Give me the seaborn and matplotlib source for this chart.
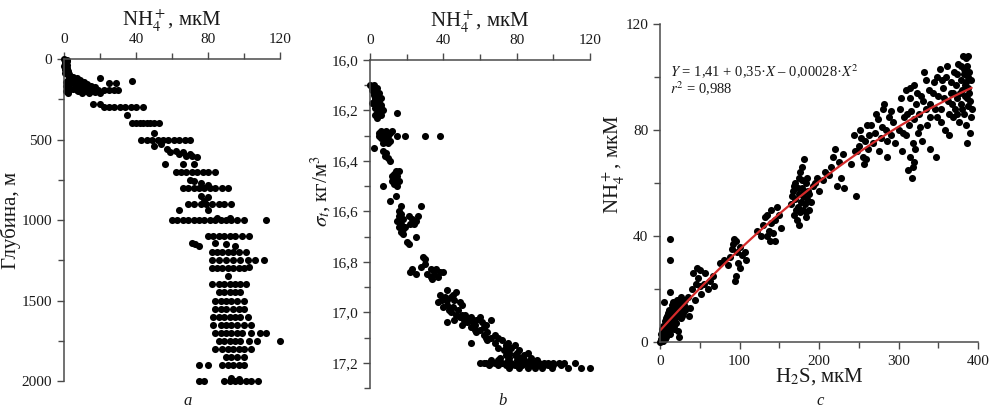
import numpy as np
import pandas as pd
import seaborn as sns
import matplotlib.pyplot as plt
from matplotlib.ticker import MultipleLocator, FuncFormatter

# Panel a: depth (m) vs NH4+ (uM)
depth_a = [0, 10, 20, 30, 40, 50, 60, 70, 80, 90, 100, 5, 15, 25, 35, 45, 55, 65, 75, 85, 95,
           105, 110, 115, 120, 125, 130, 135, 140, 145, 150, 155, 160, 165, 170, 175, 180, 185, 190, 195, 200,
           130, 140, 150, 160, 170, 180, 190, 200, 210, 150, 160, 170, 180, 190, 200,
           120, 150, 150, 135, 190, 190, 190, 190, 200, 205, 210, 210, 210,
           280, 280,
           300, 300, 300, 300, 300, 300, 300, 300,
           345,
           400, 400, 400, 400, 400, 400, 400, 400,
           460,
           500, 500, 500, 500, 500, 500, 500, 500, 500, 500,
           540, 530,
           560, 570, 580, 590, 600, 600, 610, 575, 590,
           650, 650, 650,
           700, 700, 700, 700, 700, 700, 700, 700,
           750, 760, 770, 780,
           800, 800, 800, 800, 800, 800, 800, 800, 800,
           850, 860,
           900, 900, 900, 900, 900, 900, 900, 900, 880,
           940, 940,
           1000, 1000, 1000, 1000, 1000, 1000, 1000, 1000, 1000, 1000, 1000, 1000, 1000, 1000, 1000, 990, 990,
           1100, 1100, 1100, 1100, 1100, 1100, 1100, 1100,
           1140, 1150, 1160, 1140, 1150, 1160,
           1200, 1200, 1200, 1200, 1200, 1200, 1200,
           1250, 1250, 1250, 1250, 1250, 1250, 1250, 1250,
           1300, 1300, 1300, 1300, 1300, 1300, 1300, 1290,
           1350,
           1400, 1400, 1400, 1400, 1400, 1400, 1400,
           1450, 1450, 1450, 1450, 1450,
           1500, 1500, 1500, 1500, 1500, 1500,
           1550, 1550, 1550, 1550, 1550, 1550,
           1600, 1600, 1600, 1600, 1600, 1600, 1600,
           1650, 1650, 1650, 1650, 1650, 1650, 1650,
           1700, 1700, 1700, 1700, 1700, 1700, 1700, 1700, 1700,
           1750, 1750, 1750, 1750, 1750, 1750, 1750, 1750,
           1800, 1800, 1800, 1800, 1800, 1800, 1800,
           1850, 1850, 1850, 1850,
           1900, 1900, 1900, 1900, 1900, 1900, 1900,
           2000, 2000, 2000, 2000, 2000, 2000, 2000, 2000, 2000, 1980, 1990]
nh4_a = [0, 0.5, 0.3, 0.8, 0.5, 1, 0.6, 1.2, 1, 1.5, 2, 1.5, 1.8, 0.4, 1.9, 0.2, 1.6, 0.3, 2.2, 0.5, 2.5,
         3, 5, 4, 7, 6, 9, 8, 11, 3, 10, 13, 12, 15, 8, 17, 14, 5, 19, 11, 16,
         2, 1, 1.5, 2, 1, 2.5, 3, 1, 2, 5, 7, 10, 9, 7, 8,
         20, 25, 29, 38, 22, 25, 28, 30, 12, 17, 10, 14, 20,
         16, 20,
         22, 25, 28, 31, 34, 37, 40, 44,
         35,
         38, 40, 42, 44, 46, 48, 50, 53,
         50,
         43, 46, 49, 52, 55, 58, 61, 64, 67, 70,
         50, 54,
         57, 62, 59, 64, 68, 71, 74, 66, 70,
         56, 66, 72,
         62, 65, 68, 71, 74, 77, 80, 84,
         70, 72, 76, 80,
         66, 69, 72, 75, 78, 81, 84, 88, 91,
         76, 80,
         69, 72, 76, 79, 82, 86, 89, 93, 78,
         64, 80,
         60, 63, 66, 69, 72, 75, 78, 81, 84, 87, 90, 93, 96, 100, 112, 85, 92,
         80, 83, 86, 89, 92, 95, 99, 103,
         71, 73, 75, 84, 90, 95,
         82, 85, 88, 91, 94, 97, 101,
         82, 86, 90, 94, 98, 102, 106, 111,
         82, 85, 88, 91, 94, 97, 100, 103,
         91,
         82, 86, 89, 92, 95, 98, 101,
         86, 89, 92, 95, 98,
         84, 87, 90, 93, 96, 100,
         84, 87, 90, 94, 97, 100,
         83, 86, 89, 92, 95, 98, 102,
         83, 87, 90, 93, 96, 100, 104,
         84, 87, 90, 93, 96, 99, 104, 109, 112,
         86, 89, 92, 95, 98, 103, 107, 120,
         84, 88, 91, 94, 97, 100, 104,
         90, 93, 96, 100,
         75, 80, 88, 91, 94, 97, 100,
         75, 78, 89, 92, 95, 98, 101, 104, 108, 93, 97]

# Panel b: sigma-t (kg/m3) vs NH4+ (uM)
sigma_b = [16.10, 16.10, 16.11, 16.12, 16.12, 16.13, 16.14, 16.14, 16.15, 16.16, 16.16, 16.17, 16.18,
           16.18, 16.19, 16.20, 16.20, 16.21, 16.22, 16.22, 16.23, 16.11, 16.13, 16.15, 16.17, 16.19,
           16.21,
           16.28, 16.28, 16.28, 16.29, 16.29, 16.29, 16.30, 16.30, 16.31, 16.31, 16.32, 16.32, 16.33, 16.33, 16.30,
           16.30, 16.30, 16.30, 16.30, 16.35,
           16.36, 16.37, 16.38, 16.39, 16.40,
           16.44, 16.44, 16.45, 16.46, 16.46, 16.47, 16.48, 16.48, 16.49, 16.50, 16.50,
           16.54, 16.56, 16.58, 16.58,
           16.60, 16.61, 16.62, 16.63, 16.64, 16.65, 16.66, 16.66, 16.67, 16.68, 16.62, 16.62, 16.63, 16.64, 16.65, 16.65,
           16.69, 16.70, 16.72, 16.73,
           16.78, 16.79, 16.81, 16.82, 16.83, 16.83, 16.84, 16.84, 16.85, 16.85, 16.85, 16.86, 16.86, 16.87, 16.84, 16.83,
           16.91, 16.92, 16.93, 16.94, 16.94, 16.95, 16.95, 16.96, 16.97, 16.97, 16.98, 16.99, 16.93, 16.96,
           17.00, 17.01, 17.01, 17.02, 17.02, 17.03, 17.03, 17.03, 17.04, 17.04, 17.05, 17.05, 17.05, 17.03, 17.02, 17.04,
           17.06, 17.07, 17.08, 17.08, 17.09, 17.10, 17.10, 17.11, 17.11, 17.12, 17.12, 17.13, 17.13, 17.14, 17.14,
           17.15, 17.15, 17.16, 17.16, 17.17, 17.17, 17.18, 17.18,
           17.19, 17.19, 17.19, 17.20, 17.20, 17.20, 17.20, 17.20, 17.20, 17.20, 17.20, 17.20, 17.20, 17.20,
           17.21, 17.21, 17.21, 17.21, 17.21, 17.21, 17.21, 17.21,
           17.22, 17.22, 17.22, 17.22, 17.22, 17.22, 17.22, 17.22, 17.22, 17.19, 17.19,
           17.20, 17.20, 17.20, 17.20, 17.20, 17.20, 17.20, 17.20, 17.20, 17.20,
           17.21, 17.21, 17.21, 17.21, 17.21, 17.21, 17.21, 17.19, 17.19, 17.18, 17.18, 17.17, 17.16,
           17.14, 17.12, 17.10, 17.09, 17.07, 17.06, 17.04, 17.03, 17.02, 17.01, 16.99, 16.98, 16.95]
nh4_b = [0, 2, 4, 1, 3, 5, 2, 4, 6, 3, 5, 1, 4,
         6, 3, 5, 7, 4, 3, 6, 4, 1, 2, 3, 5, 6,
         15,
         6, 9, 12, 5, 8, 11, 7, 10, 6, 9, 8, 11, 7, 10, 5,
         15, 19, 30, 38, 2,
         7, 9, 8, 10, 11,
         14, 16, 13, 12, 15, 14, 16, 12, 13, 15, 7,
         14, 11, 17, 28,
         16, 17, 16, 18, 15, 17, 16, 19, 18, 17, 21, 26, 23, 25, 22, 24,
         18, 25, 20, 21,
         29, 30, 30, 28, 33, 36, 22, 38, 25, 31, 35, 33, 37, 34, 40, 23,
         42, 47, 38, 41, 44, 39, 46, 49, 42, 50, 45, 43, 45, 37,
         44, 47, 52, 49, 55, 46, 51, 58, 53, 61, 50, 57, 63, 66, 60, 42,
         55, 60, 58, 64, 62, 66, 70, 64, 72, 55, 68, 74, 79, 70, 77,
         73, 81, 76, 86, 79, 84, 71, 82,
         66, 75, 87, 60, 63, 68, 72, 77, 80, 85, 90, 95, 100, 112,
         70, 74, 79, 83, 88, 92, 97, 104,
         76, 81, 86, 90, 94, 99, 108, 115, 120, 80, 91,
         62, 66, 70, 74, 82, 88, 92, 97, 103, 106,
         65, 77, 81, 86, 90, 95, 100, 70, 84, 76, 88, 74, 80,
         74, 75, 63, 68, 57, 62, 56, 54, 52, 50, 48, 40, 42]

# Panel c: NH4+ vs H2S (uM)
h2s_c = [0, 1, 2, 3, 4, 5, 5, 6, 7, 8, 8, 9, 10, 10, 11, 12, 13, 13, 14, 15, 16, 17, 18, 19, 20,
         21, 22, 23, 24, 25, 26, 27, 28, 30, 32, 3, 6, 9, 12, 15, 2, 4, 7, 11, 20, 24, 29,
         1, 2, 3, 4, 6, 7, 9, 10, 11, 14, 16, 17, 18, 19, 21, 22, 26, 28, 31, 33,
         12, 12, 12, 5,
         35, 38, 40, 42, 44, 46, 48, 50, 50, 52, 55, 57, 60, 63, 66, 68, 45, 36,
         75, 80, 85, 88, 90, 92, 93, 94, 95, 96, 97, 98, 100, 100, 103, 107, 108,
         122, 127, 130, 132, 134, 135, 137, 138, 140, 140, 142, 144, 145, 147, 150, 152,
         165, 167, 168, 170, 170, 172, 173, 175, 175, 176, 177, 178, 178, 180, 180, 181, 182, 183,
         184, 185, 186, 187, 190, 192, 175,
         166, 169, 171, 174, 176, 179, 181, 183, 185, 188,
         195, 198, 200, 205, 208, 212, 215, 218, 220, 222, 225, 228, 230, 232,
         240, 244, 247, 248, 250, 252, 255, 256, 258, 260, 262,
         245, 253, 259, 263, 272, 279, 285, 291,
         265, 268, 270, 274, 276, 278, 280, 282, 284, 286, 288, 290, 293, 295,
         300, 302, 305, 307, 309, 310, 312, 313, 314, 315, 316, 317, 318, 319, 320, 320, 322, 324,
         326, 328, 330, 332, 334, 336, 338, 340, 340,
         303, 306, 311, 315, 318, 321, 323, 327, 331, 335, 339,
         345, 347, 348, 350, 352, 354, 356, 358, 360, 362, 364, 366, 368, 370, 371, 372, 374, 375,
         376, 378, 379, 380, 381, 382, 383, 384, 385, 386, 386, 387, 388, 389, 390, 390, 391, 385, 387,
         343, 346, 349, 353, 357, 361, 363, 367, 369, 373, 377, 380, 382, 384, 386, 388, 389, 391,
         392, 385, 378, 374, 366, 355]
nh4_c = [0, 1, 2, 1, 3, 2, 5, 4, 6, 3, 7, 5, 8, 4, 6, 9, 5, 10, 7, 11, 8, 6, 12, 9, 13,
         10, 4, 14, 11, 15, 9, 13, 16, 14, 12, 5, 8, 10, 3, 14, 4, 0.5, 2, 12, 7, 2, 11,
         3, 0.5, 3, 6, 1, 9, 7, 11, 3, 12, 15, 10, 5, 14, 16, 12, 17, 10, 16, 13,
         39, 31, 19, 15,
         17, 13, 20, 26, 16, 28, 24, 21, 27, 18, 22, 26, 20, 23, 25, 21, 22, 10,
         30, 31, 29, 32, 35, 37, 39, 23, 25, 38, 34, 30, 28, 36, 33, 34, 31,
         42, 40, 44, 47, 40, 48, 42, 38, 50, 45, 41, 38, 46, 51, 48, 43,
         52, 57, 48, 54, 60, 46, 51, 56, 62, 49, 53, 58, 66, 50, 55, 69, 52, 60,
         47, 54, 57, 50, 53, 59, 44,
         55, 59, 50, 58, 64, 61, 57, 49, 62, 56,
         60, 62, 57, 61, 64, 63, 66, 70, 73, 59, 68, 62, 71, 58,
         67, 78, 55, 72, 74, 80, 70, 67, 76, 82, 73,
         72, 77, 69, 78, 86, 81, 76, 87,
         82, 75, 79, 84, 72, 77, 88, 90, 80, 70, 85, 78, 83, 75,
         80, 88, 72, 85, 95, 78, 65, 82, 92, 70, 87, 62, 75, 97, 84, 68, 90, 79,
         86, 93, 76, 102, 88, 82, 95, 73, 90,
         92, 79, 86, 96, 66, 73, 94, 81, 91, 99, 85,
         98, 70, 85, 93, 103, 88, 96, 80, 100, 91, 86, 98, 94, 102, 88, 97, 92, 105,
         83, 99, 90, 95, 108, 86, 101, 93, 98, 75, 104, 89, 96, 102, 91, 79, 85, 107, 100,
         94, 88, 100, 83, 92, 104, 78, 90, 85, 101, 94, 88, 103, 97, 92, 108, 94, 99,
         88, 82, 104, 86, 94, 99]

df_a = pd.DataFrame({'depth': depth_a, 'nh4': nh4_a})
df_b = pd.DataFrame({'sigma': sigma_b, 'nh4': nh4_b})
df_c = pd.DataFrame({'h2s': h2s_c, 'nh4': nh4_c})

sns.set_style('ticks')
plt.rcParams['font.family'] = ['Liberation Serif', 'DejaVu Serif']
plt.rcParams['mathtext.fontset'] = 'stix'

spine_col = '#4a4a4a'
text_col = '#1a1a1a'
dot = dict(color='black', s=26, linewidth=0, clip_on=False)

fig = plt.figure(figsize=(9.93, 4.12), dpi=100)
ax_a = fig.add_axes([0.0645, 0.0752, 0.2175, 0.7816])
ax_b = fig.add_axes([0.3726, 0.0583, 0.2216, 0.7961])
ax_c = fig.add_axes([0.6647, 0.1699, 0.3202, 0.7718])


def style_axes(ax, keep):
    for side in ['left', 'right', 'top', 'bottom']:
        ax.spines[side].set_visible(side in keep)
        ax.spines[side].set_color(spine_col)
        ax.spines[side].set_linewidth(1.1)
    ax.tick_params(which='both', direction='out', color=spine_col, width=1.0,
                   labelsize=11, labelcolor=text_col)
    ax.tick_params(which='major', length=5)
    ax.tick_params(which='minor', length=4)


comma = FuncFormatter(lambda v, p: f'{v:.1f}'.replace('.', ','))
nh4_label = r'NH$_4^+$, мкМ'

# a
sns.scatterplot(data=df_a, x='nh4', y='depth', ax=ax_a, **dot)
ax_a.set_xlim(0, 120)
ax_a.set_ylim(2000, 0)
style_axes(ax_a, ['left', 'top'])
ax_a.xaxis.tick_top()
ax_a.xaxis.set_label_position('top')
ax_a.xaxis.set_major_locator(MultipleLocator(40))
ax_a.xaxis.set_minor_locator(MultipleLocator(20))
ax_a.yaxis.set_major_locator(MultipleLocator(500))
ax_a.yaxis.set_minor_locator(MultipleLocator(250))
ax_a.tick_params(axis='x', which='both', top=True, bottom=False, pad=4)
ax_a.set_xlabel(nh4_label, fontsize=15, color=text_col, labelpad=5)
ax_a.set_ylabel('Глубина, м', fontsize=15, color=text_col)
ax_a.yaxis.set_label_coords(-0.2, 0.5)

# b
sns.scatterplot(data=df_b, x='nh4', y='sigma', ax=ax_b, **dot)
ax_b.set_xlim(0, 120)
ax_b.set_ylim(17.3, 16.0)
style_axes(ax_b, ['left', 'top'])
ax_b.xaxis.tick_top()
ax_b.xaxis.set_label_position('top')
ax_b.xaxis.set_major_locator(MultipleLocator(40))
ax_b.xaxis.set_minor_locator(MultipleLocator(20))
ax_b.yaxis.set_major_locator(MultipleLocator(0.2))
ax_b.yaxis.set_minor_locator(MultipleLocator(0.1))
ax_b.yaxis.set_major_formatter(comma)
ax_b.tick_params(axis='x', which='both', top=True, bottom=False, pad=4)
ax_b.set_xlabel(nh4_label, fontsize=15, color=text_col, labelpad=5)
ax_b.set_ylabel(r'$\sigma_t$, кг/м$^3$', fontsize=15, color=text_col)
ax_b.yaxis.set_label_coords(-0.17, 0.6)

# c
sns.scatterplot(data=df_c, x='h2s', y='nh4', ax=ax_c, **dot)
sns.regplot(data=df_c, x='h2s', y='nh4', ax=ax_c, order=2, scatter=False, ci=None,
            line_kws=dict(color='#d42a2a', lw=1.6))
ax_c.set_xlim(0, 400)
ax_c.set_ylim(0, 120)
style_axes(ax_c, ['left', 'bottom'])
ax_c.xaxis.set_major_locator(MultipleLocator(100))
ax_c.xaxis.set_minor_locator(MultipleLocator(50))
ax_c.yaxis.set_major_locator(MultipleLocator(40))
ax_c.yaxis.set_minor_locator(MultipleLocator(20))
ax_c.tick_params(axis='x', which='both', pad=4)
ax_c.set_xlabel(r'H$_2$S, мкМ', fontsize=15, color=text_col, labelpad=-1)
ax_c.set_ylabel(nh4_label, fontsize=15, color=text_col)
ax_c.yaxis.set_label_coords(-0.105, 0.56)
ax_c.text(0.03, 0.85, r'$Y$ = 1,41 + 0,35·$X$ – 0,00028·$X^2$', transform=ax_c.transAxes,
          fontsize=10.5, color=text_col, va='center')
ax_c.text(0.03, 0.795, r'$r^2$ = 0,988', transform=ax_c.transAxes,
          fontsize=10.5, color=text_col, va='center')

# panel letters
for xpx, letter in [(188, 'a'), (503, 'b'), (820, 'c')]:
    fig.text(xpx / 993, 1 - 401 / 412, letter, ha='center', va='center',
             fontsize=12, style='italic', color=text_col)

plt.savefig('out.png', dpi=100)
